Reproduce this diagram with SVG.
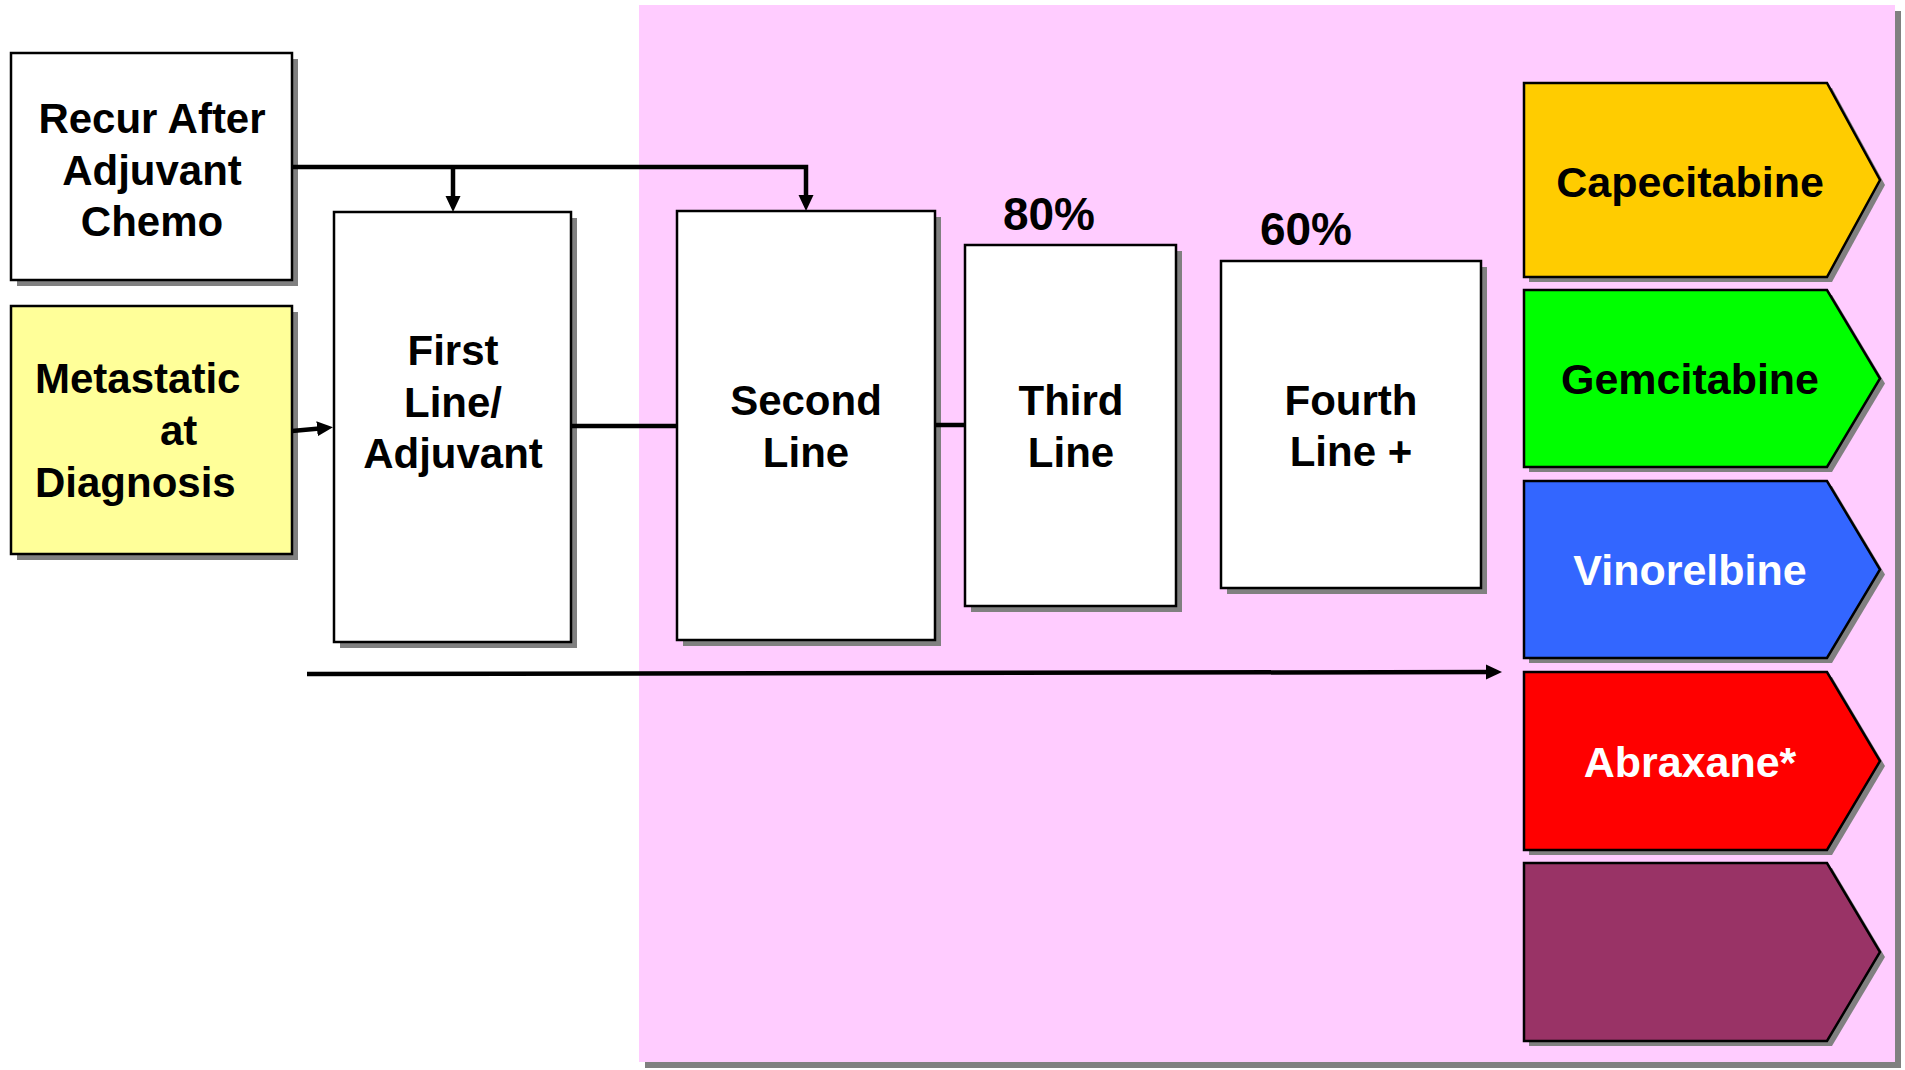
<svg xmlns="http://www.w3.org/2000/svg" width="1905" height="1070" viewBox="0 0 1905 1070">
<style>
.t{font-family:"Liberation Sans",Arial,sans-serif;font-weight:bold;font-size:42px;fill:#000}
.c{text-anchor:middle}
.big{font-size:46px}
.chev{font-size:43px}
.w{fill:#fff}
.box{stroke:#000;stroke-width:2.5}
.sh{fill:#808080}
.conn{fill:none;stroke:#000;stroke-width:4.5}
</style>
<defs>
<marker id="ah" markerUnits="userSpaceOnUse" markerWidth="18" markerHeight="16" refX="8" refY="7.5" orient="auto">
<path d="M0,0 L16,7.5 L0,15 z" fill="#000"/>
</marker>
</defs>
<rect width="1905" height="1070" fill="#fff"/>
<g id="background">
<rect class="sh" x="645" y="11" width="1256" height="1057"/>
<rect x="639" y="5" width="1256" height="1057" fill="#FFCCFF"/>
</g>
<g id="recur">
<rect class="sh" x="17" y="59" width="281" height="227"/>
<rect class="box" x="11" y="53" width="281" height="227" fill="#fff"/>
<text class="t c" x="152" y="133">Recur After</text>
<text class="t c" x="152" y="184.5">Adjuvant</text>
<text class="t c" x="152" y="236">Chemo</text>
</g>
<g id="metastatic">
<rect class="sh" x="17" y="312" width="281" height="248"/>
<rect class="box" x="11" y="306" width="281" height="248" fill="#FFFF99"/>
<text class="t" x="35" y="393">Metastatic</text>
<text class="t" x="160" y="445">at</text>
<text class="t" x="35" y="497">Diagnosis</text>
</g>
<g id="first">
<rect class="sh" x="340" y="218" width="237" height="430"/>
<rect class="box" x="334" y="212" width="237" height="430" fill="#fff"/>
<text class="t c" x="453" y="365">First</text>
<text class="t c" x="453" y="417">Line/</text>
<text class="t c" x="453" y="468">Adjuvant</text>
</g>
<g id="second">
<rect class="sh" x="683" y="217" width="258" height="429"/>
<rect class="box" x="677" y="211" width="258" height="429" fill="#fff"/>
<text class="t c" x="806" y="415">Second</text>
<text class="t c" x="806" y="467">Line</text>
</g>
<g id="third">
<rect class="sh" x="971" y="251" width="211" height="361"/>
<rect class="box" x="965" y="245" width="211" height="361" fill="#fff"/>
<text class="t c" x="1071" y="415">Third</text>
<text class="t c" x="1071" y="467">Line</text>
<text class="t c big" x="1049" y="230">80%</text>
</g>
<g id="fourth">
<rect class="sh" x="1227" y="267" width="260" height="327"/>
<rect class="box" x="1221" y="261" width="260" height="327" fill="#fff"/>
<text class="t c" x="1351" y="415">Fourth</text>
<text class="t c" x="1351" y="466">Line +</text>
<text class="t c big" x="1306" y="245">60%</text>
</g>
<g id="capecitabine">
<polygon class="sh" points="1529,88 1832,88 1885,185 1832,282 1529,282"/>
<polygon class="box" points="1524,83 1827,83 1880,180 1827,277 1524,277" fill="#FFCC00"/>
<text class="t c chev" x="1690" y="197">Capecitabine</text>
</g>
<g id="gemcitabine">
<polygon class="sh" points="1529,295 1832,295 1885,383.5 1832,472 1529,472"/>
<polygon class="box" points="1524,290 1827,290 1880,378.5 1827,467 1524,467" fill="#00FF00"/>
<text class="t c chev" x="1690" y="394">Gemcitabine</text>
</g>
<g id="vinorelbine">
<polygon class="sh" points="1529,486 1832,486 1885,574.5 1832,663 1529,663"/>
<polygon class="box" points="1524,481 1827,481 1880,569.5 1827,658 1524,658" fill="#3366FF"/>
<text class="t c chev w" x="1690" y="585">Vinorelbine</text>
</g>
<g id="abraxane">
<polygon class="sh" points="1529,677 1832,677 1885,766 1832,855 1529,855"/>
<polygon class="box" points="1524,672 1827,672 1880,761 1827,850 1524,850" fill="#FF0000"/>
<text class="t c chev w" x="1690" y="777">Abraxane*</text>
</g>
<g id="unnamed">
<polygon class="sh" points="1529,868 1832,868 1885,957 1832,1046 1529,1046"/>
<polygon class="box" points="1524,863 1827,863 1880,952 1827,1041 1524,1041" fill="#993366"/>
</g>
<g id="connectors">
<path class="conn" d="M292,167 H806 V203" marker-end="url(#ah)"/>
<path class="conn" d="M453,167 V204" marker-end="url(#ah)"/>
<path class="conn" d="M292,431 L325,428" marker-end="url(#ah)"/>
<path class="conn" d="M571,426 H677"/>
<path class="conn" d="M935,425 H965"/>
<path class="conn" d="M307,674 L1494,672" marker-end="url(#ah)"/>
</g>
</svg>
